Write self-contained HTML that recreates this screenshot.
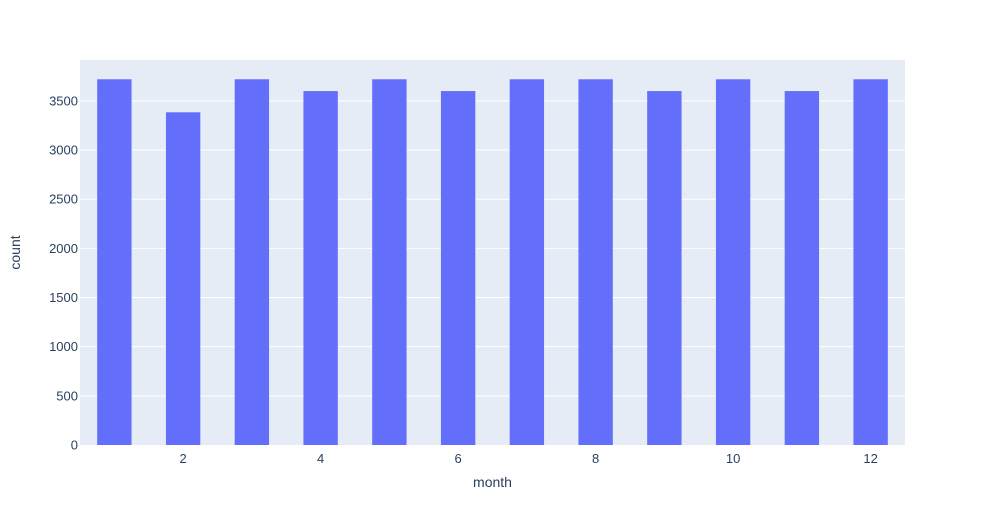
<!DOCTYPE html>
<html><head><meta charset="utf-8"><style>
body{margin:0;background:#fff;font-family:"Liberation Sans",Arial,sans-serif}
</style></head><body>
<svg id="chart" width="985" height="525" xmlns="http://www.w3.org/2000/svg"></svg>
<script>
const months=[1,2,3,4,5,6,7,8,9,10,11,12];
const counts=[3720,3384,3720,3600,3720,3600,3720,3720,3600,3720,3600,3720];
const yTicks=[0,500,1000,1500,2000,2500,3000,3500];
const xTicks=[2,4,6,8,10,12];
const L=80,R=905,T=60,B=445;
const xMin=0.5,xMax=12.5,yMax=3916;
const xs=v=>L+(v-xMin)/(xMax-xMin)*(R-L);
const ys=v=>B-v/yMax*(B-T);
const svg=document.getElementById('chart');
const NS='http://www.w3.org/2000/svg';
function mk(tag,attrs,parent){const e=document.createElementNS(NS,tag);for(const k in attrs)e.setAttribute(k,attrs[k]);(parent||svg).appendChild(e);return e;}
const bg=mk('rect',{x:L,y:T,width:R-L,height:B-T,fill:'#e5ecf6'});


yTicks.forEach(t=>{
  if(t>0){const g=mk('line',{x1:L,x2:R,y1:ys(t),y2:ys(t),stroke:'#fff','stroke-width':1});
  
  }
  const tx=mk('text',{x:L-2,y:ys(t)+4.5,'text-anchor':'end','font-size':13,fill:'#2a3f5f'});
  tx.textContent=t;
  
  
});
months.forEach((m,i)=>{
  const w=(xs(1)-xs(0))*0.5;
  const r=mk('rect',{x:xs(m)-w/2,y:ys(counts[i]),width:w,height:B-ys(counts[i]),fill:'#636efa'});
  
  
});
xTicks.forEach(t=>{
  const tx=mk('text',{x:xs(t),y:B+14+4,'text-anchor':'middle','font-size':13,fill:'#2a3f5f'});
  tx.textContent=t;
  
  
});
const xt=mk('text',{x:(L+R)/2,y:487,'text-anchor':'middle','font-size':14,fill:'#2a3f5f'});
xt.textContent='month';


const yt=mk('text',{x:20,y:(T+B)/2,'text-anchor':'middle','font-size':14,fill:'#2a3f5f',transform:'rotate(-90 20 '+((T+B)/2)+')'});
yt.textContent='count';


</script>
</body></html>
